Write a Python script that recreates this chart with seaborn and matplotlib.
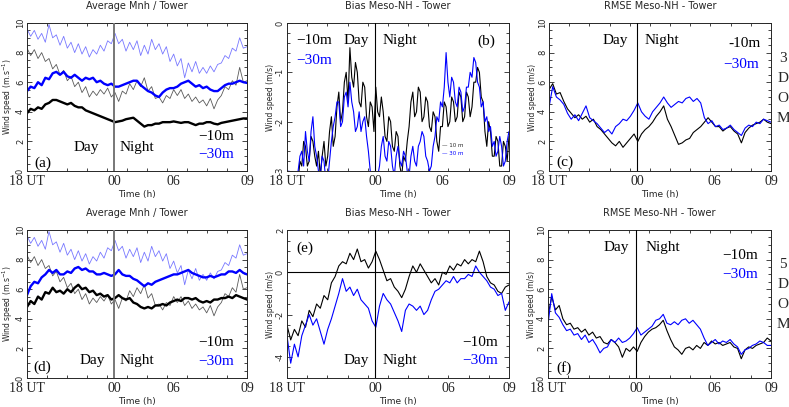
import numpy as np
import pandas as pd
import matplotlib
matplotlib.use("Agg")
import matplotlib.pyplot as plt
import seaborn as sns

## time axis (hours after 18 UT), one value every 15 min
hours = np.arange(0, 15.01, 0.25)
## finer axis for the bias panel (every 7.5 min)
hours_fine = np.arange(0, 15.001, 0.125)

## tower observations (same in both rows)
tower_30m = [9.6, 9.1, 9.5, 8.9, 9.3, 8.7, 9.9, 9.0, 9.2, 8.5, 9.1, 8.3, 8.7, 8.0, 8.6, 7.9,
             8.4, 7.7, 8.2, 7.9, 8.5, 8.1, 8.8, 8.6, 9.3, 8.6, 8.9, 8.1, 8.7, 8.2, 8.8, 7.8,
             8.5, 7.9, 8.9, 8.2, 8.6, 7.9, 8.4, 7.4, 7.9, 7.1, 7.6, 6.3, 7.3, 6.7, 7.4, 6.6,
             7.0, 6.6, 7.1, 6.7, 7.2, 7.3, 7.8, 7.6, 8.3, 8.1, 9.0, 8.3, 8.4]
tower_10m = [8.3, 7.8, 8.2, 7.6, 8.0, 7.4, 7.6, 6.9, 7.2, 6.5, 6.8, 6.1, 6.4, 5.7, 6.0, 5.3,
             5.7, 5.0, 5.4, 5.1, 5.5, 5.2, 5.6, 5.0, 5.3, 4.7, 5.4, 5.2, 5.9, 5.5, 6.1, 5.7,
             6.3, 5.4, 5.7, 4.9, 5.0, 4.6, 5.1, 4.9, 5.5, 5.1, 5.5, 4.9, 5.2, 4.7, 5.0, 4.6,
             4.8, 4.4, 4.9, 4.2, 4.8, 5.1, 5.7, 5.5, 6.1, 5.8, 7.0, 6.0, 6.1]

## Meso-NH 3DOM
avg3_30m = [5.4, 5.7, 5.6, 6.0, 5.8, 6.3, 6.2, 6.6, 6.7, 6.5, 6.7, 6.4, 6.3, 6.5, 6.3, 6.1,
            6.3, 6.2, 6.3, 6.0, 6.1, 5.9, 5.8, 5.9, 5.7, 5.7, 5.8, 5.9, 6.0, 6.1, 6.1, 5.8,
            5.6, 5.4, 5.3, 5.1, 5.0, 5.3, 5.5, 5.6, 5.6, 5.7, 5.9, 6.0, 6.1, 5.9, 5.7, 5.8,
            5.6, 5.7, 5.5, 5.4, 5.4, 5.6, 5.8, 5.9, 5.9, 6.0, 6.1, 6.0, 5.95]
avg3_10m = [3.9, 4.2, 4.1, 4.3, 4.2, 4.5, 4.6, 4.8, 4.8, 4.7, 4.6, 4.5, 4.6, 4.4, 4.3, 4.3,
            4.1, 4.0, 3.9, 3.8, 3.7, 3.6, 3.5, 3.4, 3.3, 3.35, 3.4, 3.5, 3.55, 3.6, 3.4, 3.2,
            3.0, 3.1, 3.1, 3.2, 3.2, 3.3, 3.3, 3.3, 3.35, 3.3, 3.25, 3.3, 3.3, 3.2, 3.1, 3.2,
            3.2, 3.3, 3.3, 3.2, 3.15, 3.25, 3.3, 3.35, 3.4, 3.45, 3.5, 3.55, 3.55]
bias3_10m = [-3.4, -3.1, -3.3, -3.5, -3.5, -3.2, -3.2, -2.8,
             -2.9, -2.4, -2.5, -2.9, -2.8, -2.3, -2.4, -2.7,
             -2.9, -2.6, -3.1, -2.7, -2.4, -2.9, -2.7, -2.2,
             -1.9, -2.5, -2.3, -1.7, -1.4, -2.0, -1.8, -1.2,
             -1.0, -1.6, -0.5, -1.1, -1.3, -0.8, -1.0, -1.6,
             -1.7, -1.2, -1.3, -1.9, -2.1, -1.6, -1.7, -2.2,
             -1.3, -1.8, -1.9, -1.5, -1.8, -2.3, -2.4, -1.9,
             -2.0, -2.5, -2.6, -2.2, -2.3, -2.9, -3.1, -2.7,
             -2.8, -2.4, -2.1, -1.6, -1.4, -1.9, -1.8, -1.3,
             -1.4, -2.0, -1.9, -1.5, -1.6, -2.1, -2.2, -1.8,
             -1.9, -2.4, -2.6, -2.1, -2.1, -1.6, -1.7, -2.1,
             -2.0, -1.5, -1.6, -2.0, -1.9, -1.4, -1.5, -2.0,
             -1.9, -1.4, -1.5, -1.9, -1.7, -1.2, -1.2, -0.9,
             -1.0, -1.5, -1.6, -2.2, -2.5, -2.0, -2.2, -2.7,
             -2.7, -2.3, -2.4, -2.9, -2.9, -2.4, -2.5, -2.8,
             -2.3]
bias3_30m = [-3.3, -3.0, -3.2, -3.4, -3.4, -3.1, -3.0, -2.7,
             -2.6, -2.9, -2.2, -2.6, -2.8, -2.2, -1.9, -2.5,
             -2.7, -3.0, -3.1, -2.7, -2.8, -3.2, -3.2, -2.8,
             -2.4, -2.1, -1.9, -1.6, -1.6, -2.1, -2.0, -1.5,
             -1.4, -1.7, -1.2, -1.6, -1.8, -2.2, -2.1, -1.8,
             -2.2, -2.0, -1.9, -2.3, -2.6, -3.0, -3.3, -3.2,
             -3.4, -3.1, -2.9, -2.5, -2.3, -2.7, -2.8, -2.4,
             -2.5, -2.9, -3.1, -2.7, -2.5, -2.8, -2.9, -2.6,
             -2.7, -3.0, -3.1, -2.7, -2.5, -2.8, -2.9, -2.5,
             -2.4, -2.2, -2.3, -2.7, -2.8, -3.0, -2.9, -2.5,
             -2.3, -1.9, -2.0, -1.6, -1.7, -1.3, -0.6, -1.2,
             -1.5, -1.1, -1.2, -1.6, -1.7, -1.3, -1.4, -1.8,
             -1.7, -1.3, -1.3, -1.0, -1.1, -0.7, -0.8, -1.2,
             -1.3, -1.7, -1.6, -2.0, -1.9, -2.2, -2.1, -2.5,
             -2.4, -2.7, -2.6, -2.3, -2.5, -2.9, -2.8, -2.4,
             -2.2]
rmse3_10m = [5.5, 5.9, 5.2, 5.3, 4.7, 4.2, 3.9, 3.6, 3.8, 3.5, 3.7, 3.3, 3.5, 3.0, 2.8, 2.5,
             2.2, 1.9, 1.7, 2.0, 1.6, 1.9, 2.2, 2.5, 2.0, 2.5, 2.8, 3.0, 3.3, 3.7, 4.0, 4.4,
             3.5, 3.0, 2.4, 1.8, 1.9, 2.1, 2.2, 2.6, 2.8, 3.0, 3.3, 3.6, 3.3, 3.0, 3.0, 2.7,
             2.9, 3.0, 2.7, 2.5, 1.9, 2.6, 2.9, 3.1, 3.2, 3.3, 3.5, 3.3, 3.2]
rmse3_30m = [4.3, 5.7, 5.0, 4.8, 4.5, 3.9, 3.5, 3.8, 3.4, 3.9, 4.4, 3.6, 3.4, 3.2, 2.9, 2.6,
             2.8, 2.5, 3.0, 3.2, 3.5, 3.4, 3.7, 4.1, 4.6, 4.0, 3.7, 3.5, 4.0, 4.3, 4.6, 5.0,
             4.6, 4.3, 4.5, 4.7, 4.6, 4.9, 5.0, 4.7, 4.9, 4.6, 3.6, 3.2, 3.4, 3.0, 3.1, 2.8,
             2.9, 3.1, 2.8, 2.6, 2.4, 2.9, 3.1, 3.0, 3.3, 3.2, 3.5, 3.4, 3.3]

## Meso-NH 5DOM
avg5_30m = [5.6, 6.2, 6.5, 6.4, 6.8, 7.0, 7.3, 7.1, 7.3, 7.0, 7.0, 7.2, 7.1, 7.4, 7.5, 7.3,
            7.4, 7.2, 7.2, 7.0, 7.0, 7.1, 7.0, 6.9, 7.0, 7.3, 7.0, 6.9, 6.9, 6.7, 6.6, 6.4,
            6.2, 6.4, 6.3, 6.5, 6.6, 6.7, 6.8, 6.9, 7.0, 7.0, 7.1, 7.2, 7.3, 7.1, 7.0, 6.9,
            6.8, 6.8, 6.9, 6.8, 6.9, 7.0, 7.0, 7.2, 7.2, 7.1, 7.3, 7.1, 7.0]
avg5_10m = [4.8, 5.2, 5.0, 5.5, 5.3, 5.8, 5.7, 6.1, 5.8, 5.9, 5.7, 6.0, 5.8, 6.1, 6.3, 6.0,
            6.1, 5.8, 5.9, 5.6, 5.7, 5.5, 5.6, 5.3, 5.4, 5.6, 5.4, 5.3, 5.4, 5.1, 5.0, 4.8,
            4.7, 4.8, 4.7, 4.9, 4.9, 5.0, 4.9, 5.1, 5.2, 5.3, 5.2, 5.4, 5.4, 5.3, 5.4, 5.2,
            5.1, 5.2, 5.1, 5.3, 5.3, 5.4, 5.4, 5.5, 5.4, 5.6, 5.5, 5.4, 5.3]
bias5_10m = [-2.5, -3.2, -2.7, -3.0, -2.3, -2.6, -1.8, -2.1, -1.5, -1.7, -1.1, -1.3, -0.5, -0.2, 0.3, 0.5,
             0.4, 0.9, 0.6, 1.1, 0.5, 0.6, 0.2, 0.5, 1.0, 0.6, 0.1, -0.4, -0.3, -0.7, -0.9, -1.2,
             -0.8, -0.2, 0.3, 0.0, 0.4, 0.1, -0.2, -0.5, -0.3, -0.6, 0.0, -0.1, 0.3, 0.1, 0.4, 0.3,
             0.6, 0.4, 0.6, 0.5, 1.0, 0.5, -0.2, -0.5, -0.6, -0.9, -1.0, -0.7, -0.6]
bias5_30m = [-3.0, -4.3, -3.4, -4.0, -3.0, -2.5, -2.0, -2.5, -2.2, -2.8, -3.4, -2.7, -2.2, -1.6, -1.0, -0.3,
             -0.9, -0.7, -1.1, -0.8, -1.3, -1.5, -1.7, -2.3, -2.6, -1.6, -1.0, -1.3, -1.5, -1.9, -2.3, -2.8,
             -1.8, -1.5, -1.6, -1.8, -1.6, -2.0, -1.8, -1.3, -0.9, -0.8, -0.6, -0.4, -0.5, -0.2, -0.5, -0.3,
             -0.3, -0.1, -0.2, 0.3, 0.0, -0.2, -0.4, -0.7, -0.8, -1.1, -1.0, -1.8, -1.4]
rmse5_10m = [4.2, 5.5, 4.6, 4.9, 4.0, 3.6, 3.7, 3.3, 3.4, 3.1, 3.3, 2.9, 3.1, 2.7, 2.8, 2.4,
             2.3, 2.6, 2.4, 2.1, 1.4, 2.0, 1.8, 2.1, 1.8, 2.4, 2.8, 3.1, 3.3, 3.4, 3.6, 3.9,
             3.2, 2.6, 2.1, 1.9, 1.6, 2.0, 2.1, 1.9, 2.2, 2.0, 2.4, 2.2, 2.5, 2.3, 2.4, 2.2,
             2.3, 2.4, 2.1, 2.0, 1.3, 1.9, 2.1, 2.0, 2.2, 2.3, 2.4, 2.7, 2.5]
rmse5_30m = [3.6, 5.7, 4.4, 4.1, 3.6, 3.2, 3.3, 2.9, 3.0, 2.6, 2.9, 2.4, 2.6, 2.2, 1.7, 2.0,
             2.1, 2.6, 2.4, 2.7, 2.4, 2.5, 2.7, 3.0, 3.4, 2.9, 3.1, 3.3, 3.5, 3.9, 4.0, 4.3,
             3.7, 3.6, 3.8, 3.6, 3.9, 4.0, 3.7, 3.9, 3.6, 3.3, 2.7, 2.2, 2.4, 2.6, 2.3, 2.5,
             2.4, 2.6, 2.3, 2.1, 1.6, 1.9, 2.0, 2.2, 2.3, 2.5, 2.4, 2.2, 2.2]

xlabels = ["18 UT", "00", "06", "09"]

sns.set_style("ticks")
plt.rcParams['axes.unicode_minus'] = False
plt.rcParams['font.family'] = ['DejaVu Sans']
serif = 'Liberation Serif'
BLUE = '#0000ff'
LIGHT = '#7878ff'
GRAY = '#5a5a5a'

fig = plt.figure(figsize=(7.89, 4.07), dpi=100)


def make_ax(left, top, width):
    return fig.add_axes([left / 789, (407 - top - 148) / 407, width / 789, 148 / 407])


def line(ax, y, color, lw, t=hours):
    df = pd.DataFrame({'t': t, 'v': y})
    sns.lineplot(data=df, x='t', y='v', ax=ax, color=color, lw=lw, estimator=None)


def style(ax, title, ylab, ylim, yticks, pos06, midline_color, midline_lw):
    ax.set_xlim(0, 15)
    ax.set_ylim(*ylim)
    ax.axvline(5.95, color=midline_color, lw=midline_lw, zorder=5)
    ax.set_xticks([0, 5.95, pos06, 15])
    ax.set_xticklabels(xlabels, family=serif, fontsize=10)
    ax.set_yticks(yticks)
    ax.set_yticklabels([str(v) for v in yticks], rotation=90, va='center', fontsize=6)
    ax.minorticks_on()
    ax.set_xticks(np.linspace(0, 15, 12), minor=True)
    ax.tick_params(which='both', direction='in', top=True, right=True, width=0.6)
    ax.tick_params(which='major', length=3.5)
    ax.tick_params(which='minor', length=2)
    ax.tick_params(axis='x', which='major', length=0, pad=3)
    ax.tick_params(axis='y', which='major', pad=1.5)
    ax.set_xlabel('Time (h)', fontsize=6.5, labelpad=1)
    ax.set_ylabel(ylab, fontsize=5.5)
    ax.yaxis.set_label_coords(-0.055, 0.5)
    ax.set_title(title, fontsize=7, pad=10)
    for s in ax.spines.values():
        s.set_linewidth(0.7)


def txt(ax, x, y, s, color='black', size=11, ha='center'):
    ax.text(x, y, s, transform=ax.transAxes, family=serif, fontsize=size,
            color=color, ha=ha, va='center')


# (a) average 3DOM
ax = make_ax(27, 23, 220)
line(ax, tower_30m, LIGHT, 0.6)
line(ax, tower_10m, GRAY, 0.6)
line(ax, avg3_30m, BLUE, 1.7)
line(ax, avg3_10m, 'black', 1.7)
style(ax, 'Average Mnh / Tower', 'Wind speed (m.s$^{-1}$)', (0, 10), [0, 2, 4, 6, 8, 10], 9.96, '#777777', 1.4)
txt(ax, 0.27, 0.16, 'Day')
txt(ax, 0.50, 0.16, 'Night')
txt(ax, 0.07, 0.055, '(a)')
txt(ax, 0.86, 0.23, '\u221210m')
txt(ax, 0.86, 0.11, '\u221230m', BLUE)

# (b) bias 3DOM
ax = make_ax(287, 23, 222)
line(ax, bias3_10m, 'black', 0.8, hours_fine)
line(ax, bias3_30m, BLUE, 0.8, hours_fine)
style(ax, 'Bias Meso-NH - Tower', 'Wind speed (m/s)', (-3, 0), [-3, -2, -1, 0], 10.5, 'black', 0.8)
txt(ax, 0.12, 0.88, '\u221210m')
txt(ax, 0.12, 0.745, '\u221230m', BLUE)
txt(ax, 0.31, 0.88, 'Day')
txt(ax, 0.51, 0.88, 'Night')
txt(ax, 0.90, 0.88, '(b)')
ax.text(0.745, 0.17, '\u2014 10 m', transform=ax.transAxes, fontsize=4, ha='center', va='center')
ax.text(0.745, 0.115, '\u2014 30 m', transform=ax.transAxes, fontsize=4, ha='center', va='center', color=BLUE)

# (c) rmse 3DOM
ax = make_ax(549, 23, 222)
line(ax, rmse3_10m, 'black', 0.8)
line(ax, rmse3_30m, BLUE, 0.8)
style(ax, 'RMSE Meso-NH - Tower', 'Wind speed (m/s)', (0, 10), [0, 2, 4, 6, 8, 10], 11.15, 'black', 0.8)
txt(ax, 0.30, 0.88, 'Day')
txt(ax, 0.51, 0.88, 'Night')
txt(ax, 0.88, 0.86, '-10m')
txt(ax, 0.865, 0.72, '\u221230m', BLUE)
txt(ax, 0.07, 0.06, '(c)')
for i, ch in enumerate('3DOM'):
    fig.text(783 / 789, 1 - (58 + 20 * i) / 407, ch, family=serif, fontsize=11, ha='center', va='center')

# (d) average 5DOM
ax = make_ax(27, 230, 220)
line(ax, tower_30m, LIGHT, 0.6)
line(ax, tower_10m, GRAY, 0.6)
line(ax, avg5_30m, BLUE, 1.7)
line(ax, avg5_10m, 'black', 1.7)
style(ax, 'Average Mnh / Tower', 'Wind speed (m.s$^{-1}$)', (0, 10), [0, 2, 4, 6, 8, 10], 9.96, '#777777', 1.4)
txt(ax, 0.295, 0.12, 'Day')
txt(ax, 0.50, 0.12, 'Night')
txt(ax, 0.07, 0.07, '(d)')
txt(ax, 0.86, 0.24, '\u221210m')
txt(ax, 0.86, 0.11, '\u221230m', BLUE)

# (e) bias 5DOM
ax = make_ax(287, 230, 222)
line(ax, bias5_10m, 'black', 0.8)
line(ax, bias5_30m, BLUE, 0.8)
ax.axhline(0, color='black', lw=0.8)
style(ax, 'Bias Meso-NH - Tower', 'Wind speed (m/s)', (-5, 2), [-4, -2, 0, 2], 10.9, 'black', 0.8)
txt(ax, 0.08, 0.88, '(e)')
txt(ax, 0.87, 0.24, '\u221210m')
txt(ax, 0.87, 0.115, '\u221230m', BLUE)
txt(ax, 0.31, 0.115, 'Day')
txt(ax, 0.51, 0.115, 'Night')

# (f) rmse 5DOM
ax = make_ax(548, 230, 223)
line(ax, rmse5_10m, 'black', 0.8)
line(ax, rmse5_30m, BLUE, 0.8)
style(ax, 'RMSE Meso-NH - Tower', 'Wind speed (m/s)', (0, 10), [0, 2, 4, 6, 8, 10], 11.2, 'black', 0.8)
txt(ax, 0.305, 0.88, 'Day')
txt(ax, 0.515, 0.88, 'Night')
txt(ax, 0.86, 0.83, '\u221210m')
txt(ax, 0.86, 0.70, '\u221230m', BLUE)
txt(ax, 0.07, 0.07, '(f)')
for i, ch in enumerate('5DOM'):
    fig.text(783 / 789, 1 - (265 + 20 * i) / 407, ch, family=serif, fontsize=11, ha='center', va='center')

fig.savefig('out.png', dpi=100)
